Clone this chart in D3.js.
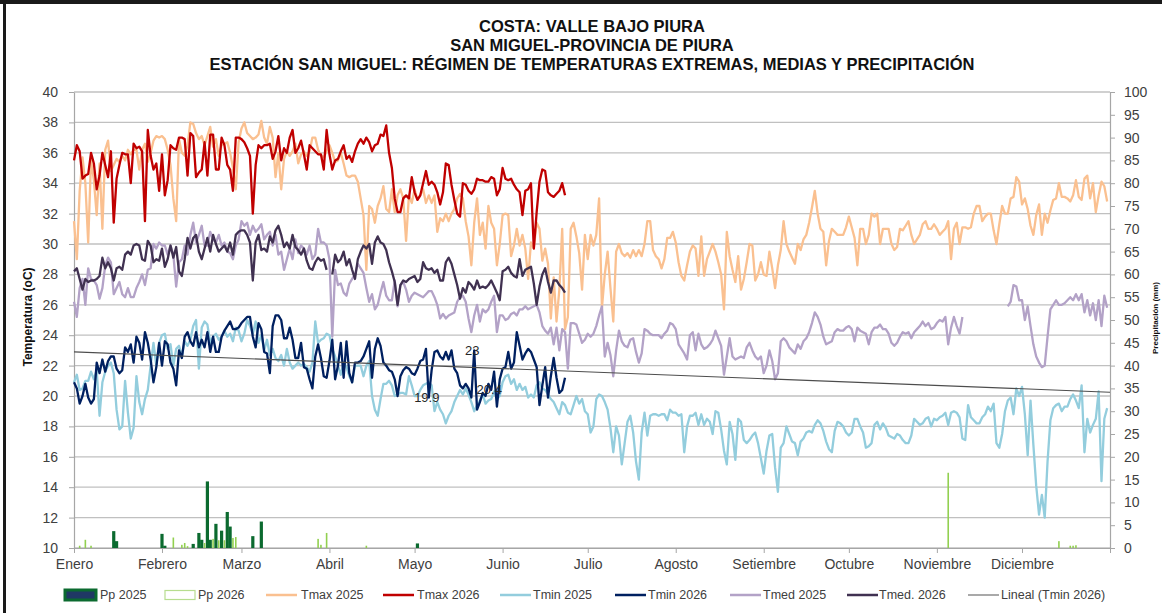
<!DOCTYPE html>
<html><head><meta charset="utf-8">
<script src="https://cdn.jsdelivr.net/npm/d3@7"></script>
<style>body{margin:0;background:#fff;}svg{display:block;}</style>
</head><body><svg id="chart" width="1162" height="613"></svg>
<script>
// ---------------- DATA ----------------
const titleLines = ["COSTA: VALLE BAJO PIURA","SAN MIGUEL-PROVINCIA DE PIURA","ESTACIÓN SAN MIGUEL: RÉGIMEN DE TEMPERATURAS EXTREMAS, MEDIAS Y PRECIPITACIÓN"];
const months = ["Enero","Febrero","Marzo","Abril","Mayo","Junio","Julio","Agosto","Setiembre","Octubre","Noviembre","Diciembre"];
const tempTicks = [10,12,14,16,18,20,22,24,26,28,30,32,34,36,38,40];
const ppTicks = [0,5,10,15,20,25,30,35,40,45,50,55,60,65,70,75,80,85,90,95,100];

// daily values, index 0 = 1 January
const tmax2025 = [
31.5,29.0,33.5,35.7,34.0,30.1,35.5,34.2,31.9,35.3,31.0,36.2,36.8,34.8,35.2,35.6,35.4,35.8,35.5,36.2,35.9,36.2,36.2,34.9,36.2,36.6,35.4,36.0,36.8,37.1,37.0,
37.1,36.9,36.2,35.2,33.0,31.5,36.9,36.0,35.8,36.5,38.0,37.9,37.3,36.9,37.1,36.5,37.1,37.7,36.4,36.9,35.8,36.5,36.6,36.7,36.0,35.0,33.6,36.7,
37.6,38.0,37.3,37.1,36.9,37.0,37.2,38.1,37.0,36.6,37.7,37.0,34.4,36.0,33.6,35.6,36.1,35.8,36.1,36.6,35.3,35.9,36.1,35.8,36.1,37.0,37.0,36.2,35.8,35.7,36.1,
36.5,36.0,35.4,35.5,36.0,35.3,34.5,34.4,34.5,34.5,34.1,33.0,31.9,28.3,32.5,32.3,31.4,32.5,33.0,33.8,32.3,32.1,33.6,32.1,33.2,33.6,33.0,30.2,33.2,32.7,
33.6,32.9,33.2,33.6,32.7,33.2,32.7,33.2,30.8,31.7,31.5,32.0,31.5,32.0,32.3,33.0,33.3,33.0,31.5,30.5,28.6,31.4,33.0,30.6,31.4,29.7,32.5,31.4,31.0,28.6,30.0,
31.9,32.0,31.9,29.2,29.9,31.0,29.9,30.6,29.7,27.7,30.1,29.7,31.4,31.0,28.9,29.7,28.7,25.1,27.8,24.9,27.0,31.0,24.4,25.2,31.0,31.4,30.5,29.4,27.0,30.6,
29.0,30.6,29.9,30.6,33.0,25.8,28.0,29.5,27.1,24.9,29.5,30.0,29.4,29.2,29.4,29.1,29.6,29.2,29.6,29.2,30.0,31.5,31.5,29.6,29.2,29.0,28.4,29.0,30.4,30.4,30.8,
30.1,28.8,27.9,27.6,28.6,29.5,29.9,29.7,27.9,30.5,27.9,29.0,29.5,30.0,29.5,28.8,28.0,25.7,30.8,29.2,28.3,27.5,29.2,27.0,27.7,28.8,30.0,29.9,27.6,28.0,28.8,
28.0,27.9,29.5,28.4,27.1,28.6,29.6,31.5,30.0,29.5,29.1,28.7,30.0,29.6,30.3,30.6,31.4,32.4,33.5,32.0,31.0,30.8,28.6,30.2,31.0,30.8,30.6,30.6,30.6,31.1,
31.8,31.1,30.4,28.6,31.0,31.0,30.0,30.6,32.0,31.8,32.0,30.0,31.0,31.0,31.0,30.0,29.6,29.8,31.0,30.9,31.2,31.5,30.6,30.0,30.3,30.6,31.3,31.5,31.0,31.0,31.3,
31.0,30.6,30.8,31.0,31.5,29.0,31.0,31.4,30.0,31.1,31.1,31.0,31.1,32.0,32.5,32.5,31.5,31.8,32.0,32.0,30.9,30.0,31.3,32.5,32.0,32.0,33.0,33.1,34.4,34.1,
32.6,33.0,32.3,31.2,30.6,31.9,32.6,30.6,32.0,31.4,32.2,32.9,33.0,34.0,33.1,33.1,33.0,32.8,33.2,34.2,33.1,32.9,34.3,34.5,33.0,34.0,32.1,33.2,34.1,33.8,32.8];

const tmin2025 = [
20.9,21.4,20.4,20.5,21.0,21.0,21.6,21.1,21.7,18.7,20.9,21.6,22.0,22.2,21.5,19.1,17.8,18.0,21.0,18.9,17.2,17.9,21.3,19.6,18.8,19.8,20.4,22.0,23.5,22.0,23.5,
24.0,24.1,23.1,23.4,22.0,23.1,23.3,22.6,23.6,23.3,23.7,24.6,25.0,21.8,24.5,24.9,24.7,23.5,23.9,24.1,23.7,23.9,24.3,23.9,24.1,23.6,24.5,24.3,
23.6,24.1,25.0,24.6,24.1,24.9,23.5,24.0,23.0,23.7,22.7,23.1,22.5,22.3,22.7,22.0,23.1,22.2,21.8,22.0,22.2,22.0,22.1,21.9,21.6,22.2,24.9,23.5,23.7,23.8,24.1,
24.0,23.1,22.6,22.0,21.4,22.2,21.9,21.3,20.9,22.0,22.0,22.0,21.3,22.0,22.3,20.0,19.1,18.7,19.8,20.8,20.8,21.0,20.7,20.0,20.1,20.2,20.2,20.1,21.3,20.7,
20.0,20.0,20.4,20.7,20.8,20.9,20.7,19.0,19.6,19.1,18.8,18.2,18.7,19.0,19.6,20.0,20.4,20.1,20.5,20.1,19.6,19.0,19.4,19.7,20.1,19.5,19.7,19.8,20.3,19.8,20.0,
20.9,21.3,21.4,20.8,21.1,20.4,20.8,20.4,20.6,19.9,20.1,19.9,20.7,20.9,20.5,20.4,20.1,19.8,19.6,19.2,18.8,19.6,19.4,18.9,18.8,19.4,20.0,19.5,19.8,19.0,
18.8,17.6,18.0,19.8,20.1,20.0,19.6,19.1,17.9,16.3,18.0,17.4,15.5,16.9,18.3,18.7,17.6,15.7,14.5,17.6,18.9,17.4,18.7,18.8,18.8,18.7,18.8,18.8,18.4,19.1,18.9,
18.9,18.7,18.8,16.3,18.0,18.7,18.7,18.9,18.1,18.8,18.1,18.5,18.3,17.5,19.0,18.9,17.8,16.4,15.5,18.3,17.5,15.8,18.5,18.3,17.1,16.9,17.1,17.4,17.6,16.9,15.9,
14.9,16.4,17.4,17.5,15.3,13.7,16.6,16.9,18.0,17.5,17.0,16.9,16.1,17.0,17.2,17.6,17.7,17.6,18.1,18.4,18.2,17.7,17.0,16.5,16.3,17.7,18.3,18.2,18.0,17.6,
17.4,17.6,18.5,18.5,18.0,17.6,16.6,16.7,16.9,18.1,18.3,17.8,18.2,17.9,17.4,17.3,17.2,17.5,17.4,17.1,16.9,16.9,17.4,18.5,18.3,18.1,18.2,18.5,18.6,18.0,18.5,
18.4,18.6,18.7,18.9,18.1,18.9,19.0,18.9,18.6,17.2,17.1,19.4,18.6,18.4,18.2,18.2,18.6,18.8,19.3,19.0,19.5,16.9,16.6,17.5,19.0,19.7,19.9,18.8,20.5,20.0,
20.6,18.8,16.1,19.7,16.8,14.1,12.2,13.5,12.0,15.7,18.4,19.2,19.4,19.5,19.0,19.3,19.3,19.8,20.1,19.7,19.2,20.7,16.3,18.5,17.6,18.1,18.5,20.3,14.4,18.5,19.2];

const tmed2025 = [
26.2,25.2,27.1,27.7,26.0,28.4,27.7,27.6,27.3,26.4,27.1,28.6,29.1,28.8,26.7,27.1,27.5,26.7,26.5,27.1,26.5,26.5,27.1,27.5,28.0,27.3,28.3,28.4,30.0,29.7,30.1,
29.9,29.9,29.3,29.9,29.3,27.2,28.8,29.0,29.9,29.3,30.6,31.4,30.1,30.6,31.2,29.9,29.9,30.8,30.3,30.1,30.6,29.9,30.1,29.5,29.4,29.0,29.9,30.3,
31.5,31.2,31.4,30.6,31.2,30.8,31.0,31.3,30.3,30.6,30.8,29.9,30.6,29.3,29.5,28.3,29.0,29.7,29.0,30.3,29.4,29.9,29.7,29.3,29.9,29.0,29.3,31.0,30.1,30.1,29.9,
29.0,23.9,28.3,27.3,27.4,26.8,26.6,27.4,27.7,28.0,28.7,28.4,28.1,27.1,26.2,26.7,25.7,26.0,26.8,27.5,26.6,26.3,26.3,27.6,25.9,27.3,27.5,27.0,26.2,26.6,
26.8,26.7,26.6,26.5,26.7,26.9,26.9,26.5,26.0,25.1,25.4,25.1,25.3,25.4,25.5,26.2,26.5,26.6,26.2,25.1,24.2,25.3,26.0,24.9,25.7,25.5,25.7,26.2,26.6,24.2,25.3,
25.3,25.0,25.1,25.4,25.5,25.3,25.7,25.7,25.9,25.7,25.8,25.9,26.0,25.5,24.6,24.3,24.1,24.5,23.4,24.5,23.0,24.4,24.2,21.8,24.8,24.8,24.7,24.1,23.5,23.7,
24.1,23.9,24.1,24.6,25.3,25.9,22.6,23.5,22.7,21.3,23.0,24.3,23.6,23.3,23.2,23.7,23.8,22.9,22.2,22.8,24.4,24.3,24.1,24.0,24.0,24.0,23.8,24.1,24.3,24.8,24.7,
24.4,23.4,23.1,22.8,22.4,24.0,24.2,23.0,24.1,23.4,23.1,23.2,23.4,23.7,24.3,23.8,23.3,21.4,22.6,23.8,22.6,22.4,22.5,22.6,22.5,23.2,23.5,23.0,22.6,22.4,22.6,
21.5,22.0,23.0,22.3,21.1,21.5,23.6,23.8,23.6,23.2,23.0,22.8,23.4,23.1,23.6,23.8,24.2,24.8,25.5,25.2,24.7,23.9,23.4,23.5,23.6,24.2,24.4,24.3,24.3,24.5,
24.6,24.4,23.6,24.5,24.3,24.2,24.1,23.4,24.2,24.5,24.5,24.7,24.4,24.4,24.1,23.5,23.3,23.5,23.9,24.2,24.1,24.2,23.8,24.2,24.4,24.6,24.9,24.6,24.8,24.4,24.5,
24.8,25.0,24.9,25.2,23.4,24.5,25.2,24.6,24.1,25.2,null,null,null,null,null,null,null,null,null,null,null,null,null,null,null,25.9,26.2,27.3,27.2,26.3,
26.3,25.0,25.9,24.6,23.4,22.6,22.2,21.9,22.0,23.9,25.7,26.0,26.3,26.0,26.0,26.1,26.3,26.5,26.3,26.7,26.3,26.7,25.5,26.3,25.3,26.1,25.0,26.3,24.6,26.6,25.8];

const tmax2026 = [
35.5,36.5,36.1,34.3,34.5,34.6,36.0,35.3,33.6,34.5,36.0,35.2,34.4,36.1,31.4,34.3,35.2,36.0,35.9,35.9,34.0,36.6,36.3,36.4,36.1,31.5,37.5,35.8,34.9,35.3,33.5,
35.9,33.2,34.2,36.5,36.3,36.2,37.0,37.0,36.9,34.5,37.3,37.1,34.4,34.7,34.9,36.7,34.5,37.2,37.2,34.9,34.9,37.0,36.5,35.2,34.9,33.5,37.0,37.0,
36.9,36.7,36.3,35.8,32.0,35.2,36.5,36.3,36.5,36.5,36.6,35.6,36.1,37.1,35.5,36.3,36.0,37.0,37.5,36.0,36.3,36.8,35.9,34.9,36.5,36.3,36.1,35.9,35.9,34.9,37.5,
35.9,34.9,35.5,35.6,36.1,36.5,35.6,35.8,35.4,36.1,36.6,36.9,36.6,37.0,36.7,36.1,36.5,36.6,37.2,37.1,37.8,36.0,35.0,33.0,32.1,32.1,33.0,33.2,33.0,34.4,
33.4,32.9,33.2,34.0,34.8,33.9,34.1,33.9,33.4,32.6,33.4,35.3,35.2,33.9,32.9,32.0,31.8,34.0,33.9,33.5,33.3,33.6,34.3,34.2,34.2,34.1,34.1,34.4,34.3,33.2,33.6,
35.0,34.3,34.2,34.3,33.9,33.6,33.4,31.9,33.5,33.6,34.0,29.7,32.1,34.1,34.9,34.8,33.4,33.2,33.1,33.3,33.5,34.0,33.2];

const tmin2026 = [
20.9,20.5,19.5,20.0,20.8,19.9,19.5,19.8,22.2,21.5,22.4,21.6,22.3,22.6,22.6,21.8,21.5,21.7,23.2,22.9,23.4,22.2,23.9,23.5,22.4,24.2,23.5,22.4,20.9,21.9,23.5,
22.0,23.6,23.4,22.2,21.8,20.7,23.0,22.5,23.9,24.2,23.6,23.3,24.2,23.2,23.7,23.2,24.2,22.9,23.9,22.9,22.9,23.9,24.3,24.6,24.9,24.4,24.4,24.5,
24.8,25.0,25.2,25.2,23.9,23.2,24.8,24.4,22.9,22.8,21.5,24.6,25.3,25.3,25.0,23.8,23.8,24.5,23.7,22.5,22.5,23.5,21.9,21.8,21.1,20.5,22.6,23.4,22.5,21.3,21.2,
22.3,23.7,21.1,22.0,23.5,21.2,23.6,21.5,20.9,22.2,22.2,22.3,22.6,23.1,23.6,21.2,23.1,23.8,23.3,22.2,22.0,21.7,21.6,21.1,20.0,21.3,21.7,21.9,21.8,21.5,
21.4,21.8,22.3,22.4,23.1,19.9,21.7,22.9,23.0,22.6,22.4,22.9,22.4,23.0,21.8,21.5,20.7,20.5,20.8,20.5,19.9,23.0,19.1,19.6,20.2,20.0,20.8,20.4,21.6,19.3,21.1,
21.8,21.9,22.9,21.8,22.2,24.2,23.3,22.4,22.8,23.1,22.9,22.4,21.9,19.4,20.7,21.9,19.9,21.3,22.5,21.2,20.2,20.4,21.2];

const tmed2026 = [
28.2,28.4,27.7,27.0,27.7,27.5,27.6,27.6,27.7,27.9,29.1,28.4,28.8,28.4,27.6,28.4,28.5,28.3,29.3,29.5,29.3,29.9,30.0,29.9,29.0,28.9,30.2,29.9,28.8,29.0,28.9,
29.7,28.5,29.0,29.9,29.1,29.8,28.2,27.9,29.0,30.4,29.7,30.4,30.6,29.5,29.0,29.7,30.4,29.5,30.6,30.0,29.5,29.7,29.9,29.5,30.1,29.3,30.6,30.8,
30.9,30.9,30.6,30.1,27.6,30.1,30.6,29.6,29.7,29.5,30.5,30.1,30.9,31.2,30.6,29.8,30.1,29.7,30.6,29.8,29.6,29.3,29.7,28.9,28.4,28.3,28.8,29.1,28.9,29.0,28.3,
null,28.0,29.3,28.8,29.0,29.5,28.6,29.0,28.3,27.7,29.0,29.5,29.9,29.7,30.0,28.7,30.1,30.5,30.1,30.0,29.6,28.8,28.2,27.5,26.0,27.3,27.6,27.5,27.7,27.8,
27.9,27.5,27.7,28.8,28.4,28.3,28.4,28.1,28.3,27.6,27.6,28.8,29.1,28.7,28.0,27.3,26.4,27.1,26.8,27.5,27.3,27.0,27.6,27.1,27.2,27.1,27.3,27.6,27.2,26.8,26.3,
28.2,28.3,28.5,28.1,27.9,27.8,29.0,27.9,28.3,28.4,28.5,27.4,26.0,27.2,28.0,28.4,27.5,26.8,27.6,27.6,27.3,27.1,26.8];

// precipitation: day-of-year index and mm
const pp2025Days = [14,15,31,32,42,44,45,47,48,50,52,54,55,63,66,121];
const pp2025     = [3.7,1.5,3.1,0.5,0.9,3.3,1.8,14.6,1.8,5.3,3.8,7.9,4.7,2.6,5.8,1.0];
const pp2026Days = [2,4,6,35,38,39,40,46,49,51,53,56,57,86,87,89,103,308,347,351,352,353];
const pp2026     = [0.5,1.8,0.5,2.3,0.7,1.1,0.4,1.1,2.0,1.7,1.7,2.2,2.4,2.0,0.7,3.3,0.5,16.5,1.5,0.5,0.5,0.6];

// linear trend of Tmin 2026 (value at start and end of the year)
const linealDays = [0,365];
const lineal = [22.9,20.25];

// data labels on Tmin 2026
const labelDays = [125,141,147];

// ---------------- CHART ----------------
const FONT = "'Liberation Sans', Arial, sans-serif";
const svg = d3.select("#chart").attr("font-family", FONT);
const P = {left:74, right:1110, top:92, bottom:548};
const dayDate = i => new Date(2025,0,1+i);
const x = d3.scaleTime().domain([new Date(2025,0,1), new Date(2026,0,1)]).range([P.left,P.right]);
const yT = d3.scaleLinear().domain([10,40]).range([P.bottom,P.top]);
const yP = d3.scaleLinear().domain([0,100]).range([P.bottom,P.top]);

svg.append("rect").attr("width",1162).attr("height",613).attr("fill","#fff");
// frame
svg.append("rect").attr("x",0).attr("y",0).attr("width",1162).attr("height",4).attr("fill","#1a1a1a");
svg.append("rect").attr("x",3).attr("y",0).attr("width",3).attr("height",613).attr("fill","#1a1a1a");

// title
svg.append("g").selectAll("text").data(titleLines).join("text")
  .attr("x",592).attr("y",(d,i)=>32+i*19).attr("text-anchor","middle")
  .attr("font-size",16.5).attr("font-weight","bold").attr("fill","#111").text(d=>d);

// grid
svg.append("g").selectAll("line").data(tempTicks).join("line")
  .attr("x1",P.left).attr("x2",P.right).attr("y1",d=>yT(d)).attr("y2",d=>yT(d))
  .attr("stroke","#c0c0c0").attr("stroke-width",1.3);

function styleAxis(g){
  g.attr("font-family",FONT).attr("font-size",14);
  g.select(".domain").attr("stroke","#a6a6a6").attr("stroke-width",1.2);
  g.selectAll(".tick line").attr("stroke","#a6a6a6");
  g.selectAll(".tick text").attr("fill","#404040");
}
styleAxis(svg.append("g").attr("transform",`translate(${P.left},0)`)
  .call(d3.axisLeft(yT).tickValues(tempTicks).tickSize(5).tickSizeOuter(0).tickPadding(11)));
styleAxis(svg.append("g").attr("transform",`translate(${P.right},0)`)
  .call(d3.axisRight(yP).tickValues(ppTicks).tickSize(5).tickSizeOuter(0).tickPadding(9)));
const monthTicks = d3.range(0,13).map(m=>new Date(2025,m,1));
styleAxis(svg.append("g").attr("transform",`translate(0,${P.bottom})`)
  .call(d3.axisBottom(x).tickValues(monthTicks).tickSize(5).tickSizeOuter(0).tickPadding(6)
    .tickFormat((d,i)=> i<12 ? months[i] : "")));

// axis titles
svg.append("text").attr("transform","translate(32,317) rotate(-90)").attr("text-anchor","middle")
  .attr("font-size",12).attr("font-weight","bold").attr("fill","#111").text("Temperatura (oC)");
svg.append("text").attr("transform","translate(1158,318) rotate(-90)").attr("text-anchor","middle")
  .attr("font-size",8).attr("font-weight","bold").attr("fill","#111").text("Precipitación (mm)");

// bars
svg.append("g").selectAll("rect").data(pp2025Days.map((d,i)=>({d,v:pp2025[i]}))).join("rect")
  .attr("x",o=>x(dayDate(o.d))-1.6).attr("width",3.2)
  .attr("y",o=>yP(o.v)).attr("height",o=>yP(0)-yP(o.v)).attr("fill","#0b6a2f");
svg.append("g").selectAll("rect").data(pp2026Days.map((d,i)=>({d,v:pp2026[i]}))).join("rect")
  .attr("x",o=>x(dayDate(o.d))-0.8).attr("width",1.6)
  .attr("y",o=>yP(o.v)).attr("height",o=>yP(0)-yP(o.v)).attr("fill","#92d050");

// lines
const series = [
  {name:"Tmax 2025", data:tmax2025, color:"#fac090"},
  {name:"Tmax 2026", data:tmax2026, color:"#c00000"},
  {name:"Tmin 2025", data:tmin2025, color:"#93cddd"},
  {name:"Tmin 2026", data:tmin2026, color:"#002060"},
  {name:"Tmed 2025", data:tmed2025, color:"#b3a2c7"},
  {name:"Tmed. 2026", data:tmed2026, color:"#403151"}
];
const line = d3.line().defined(d=>d!=null).x((d,i)=>x(dayDate(i))).y(d=>yT(d));
series.forEach(s=>{
  svg.append("path").attr("d",line(s.data)).attr("fill","none")
    .attr("stroke",s.color).attr("stroke-width",2.3).attr("stroke-linejoin","round");
});
// trend
svg.append("path").attr("d",d3.line().x((d,i)=>x(dayDate(linealDays[i]))).y(d=>yT(d))(lineal))
  .attr("fill","none").attr("stroke","#4d4d4d").attr("stroke-width",1.1);

// data labels
svg.append("g").selectAll("text").data(labelDays).join("text")
  .attr("x",d=>x(dayDate(d))-2).attr("y",d=>yT(tmin2026[d])).attr("dy","0.35em")
  .attr("text-anchor","middle").attr("font-size",13).attr("fill","#262626")
  .text(d=>String(tmin2026[d]));

// legend
const legend = [
  {name:"Pp 2025", type:"bar25", sx:65, tx:100},
  {name:"Pp 2026", type:"bar26", sx:165, tx:198},
  {name:"Tmax 2025", color:"#fac090", sx:266, tx:301},
  {name:"Tmax 2026", color:"#c00000", sx:383, tx:417},
  {name:"Tmin 2025", color:"#93cddd", sx:500, tx:533},
  {name:"Tmin 2026", color:"#002060", sx:615, tx:648},
  {name:"Tmed 2025", color:"#b3a2c7", sx:730, tx:763},
  {name:"Tmed. 2026", color:"#403151", sx:847, tx:879},
  {name:"Lineal (Tmin 2026)", color:"#8c8c8c", sx:968, tx:1001}
];
const LY = 595;
const lg = svg.append("g");
legend.forEach(it=>{
  if(it.type==="bar25"){
    lg.append("rect").attr("x",it.sx).attr("y",LY-5).attr("width",31).attr("height",10)
      .attr("fill","#1f3864").attr("stroke","#0b6a2f").attr("stroke-width",3);
  } else if(it.type==="bar26"){
    lg.append("rect").attr("x",it.sx).attr("y",LY-4.5).attr("width",30).attr("height",9)
      .attr("fill","#fff").attr("stroke","#b7dd8f").attr("stroke-width",1.2);
  } else {
    lg.append("line").attr("x1",it.sx).attr("x2",it.sx+31).attr("y1",LY).attr("y2",LY)
      .attr("stroke",it.color).attr("stroke-width",it.name.startsWith("Lineal")?1.5:2.5);
  }
  lg.append("text").attr("x",it.tx).attr("y",LY).attr("dy","0.35em")
    .attr("font-size",12.5).attr("fill","#404040").text(it.name);
});
</script></body></html>
